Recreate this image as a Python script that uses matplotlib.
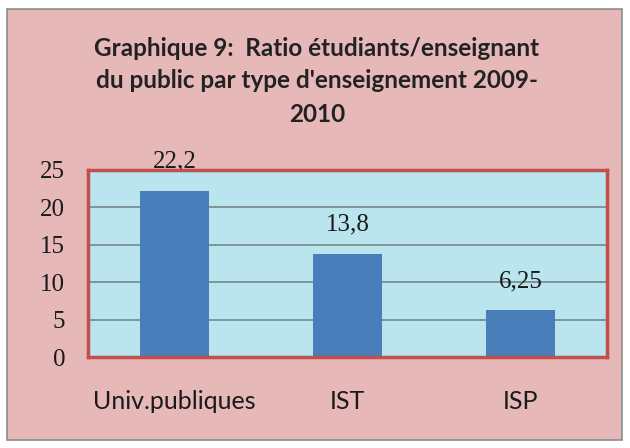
#!/usr/bin/env python3

import matplotlib.pyplot as plt
from matplotlib.patches import Rectangle

categories = ['Univ.publiques', 'IST', 'ISP']
ratios = [22.2, 13.8, 6.25]
yticks = [0, 5, 10, 15, 20, 25]

title_lines = [
   'Graphique 9:  Ratio étudiants/enseignant',
   "du public par type d'enseignement 2009-",
   '2010',
   ]

plt.rcParams['font.family'] = ['Lato', 'DejaVu Sans']
NUMBER_FONT = ['Liberation Serif', 'DejaVu Serif']

W, H = 630, 448
figure = plt.figure(figsize=(W / 100, H / 100), dpi=100, facecolor='white')

# pink chart area with thin grey frame, kept behind the axes
figure.patches.append(Rectangle((7 / W, 1 - 440 / H), 615 / W, 431 / H,
   transform=figure.transFigure, facecolor='#E6B8B7', edgecolor='#8C8C8C',
   linewidth=1.2, zorder=-1))

ax = figure.add_axes([88 / W, 1 - 357 / H, 519 / W, 187 / H])
ax.set_zorder(1)
ax.set_facecolor('#BAE4EE')

x = range(len(categories))
bars = ax.bar(x, ratios, width=0.4, color='#4A7EBB', zorder=3)

for rect, value in zip(bars, ratios):
   ax.annotate(('%g' % value).replace('.', ','),
      (rect.get_x() + rect.get_width() / 2, value),
      xytext=(0, 21), textcoords='offset points',
      ha='center', va='center', fontsize=18, family=NUMBER_FONT,
      color='#1A1A1A', annotation_clip=False)

ax.set_xlim(-0.5, len(categories) - 0.5)
ax.set_ylim(0, 25)
ax.set_yticks(yticks)
ax.set_xticks(list(x))
ax.set_xticklabels(categories, fontsize=18)
for label in ax.get_yticklabels():
   label.set_family(NUMBER_FONT)
   label.set_fontsize(18)

ax.yaxis.grid(True, color='#6F7F80', linewidth=1.1, zorder=1)
ax.set_axisbelow(True)
ax.tick_params(axis='both', length=0, labelcolor='#1A1A1A')
ax.tick_params(axis='y', pad=16.5)
ax.tick_params(axis='x', pad=24)

for spine in ax.spines.values():
   spine.set_color('#C0504D')
   spine.set_linewidth(2.5)
   spine.set_zorder(4)

for i, line in enumerate(title_lines):
   figure.text(317 / W, 1 - (48 + 33 * i) / H, line, ha='center', va='center',
      fontsize=17.5, fontweight='bold', color='#222222')

figure.savefig('out.png', dpi=100, facecolor='white')
